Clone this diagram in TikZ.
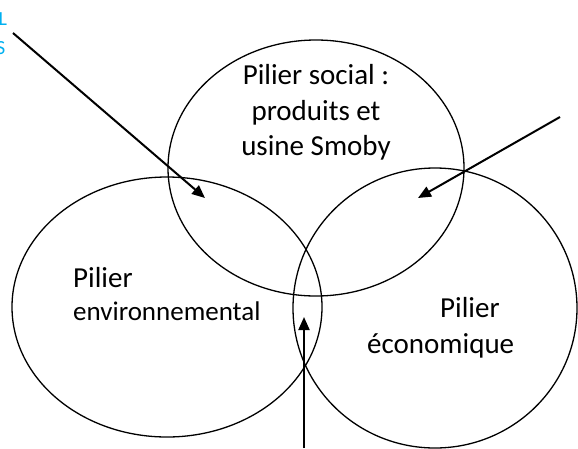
\documentclass[tikz,border=0pt]{standalone}
\usepackage{fontspec}
\setmainfont{Carlito}
\usetikzlibrary{arrows.meta}
\definecolor{wordblue}{RGB}{0,176,240}
\tikzset{
  pillar/.style={draw=black, line width=1.3pt},
  pointer/.style={draw=black, line width=2pt, -{Triangle[length=13pt,width=11pt]}},
  lbl/.style={inner sep=0pt, anchor=base, font=\fontsize{29}{35}\selectfont},
  lblw/.style={lbl, anchor=base west},
  cyanlbl/.style={inner sep=0pt, anchor=base west, text=wordblue, font=\fontsize{20}{24}\selectfont}
}
\begin{document}
\begin{tikzpicture}[x=1pt,y=-1pt]
\useasboundingbox (0,0) rectangle (578,448);
% circles
\draw[pillar] (316,168) ellipse [x radius=148, y radius=128];
\draw[pillar] (167,307) ellipse [x radius=155, y radius=130];
\draw[pillar] (435,308) ellipse [x radius=142, y radius=140];
% texts
\node[lbl] (s1) at (316,84) {Pilier social :};
\node[lbl] (s2) at (316,120) {produits et};
\node[lbl] (s3) at (316,155) {usine Smoby};
\node[lblw] (e1) at (73,287) {Pilier};
\node[lblw, font=\fontsize{27}{33}\selectfont] (e2) at (73,320) {environnemental};
\node[lblw] (c1) at (440,317) {Pilier};
\node[lblw] (c2) at (367,353) {économique};
\node[cyanlbl] (t1) at (-1.5,25) {L};
\node[cyanlbl] (t2) at (-4,54) {S};
% arrows
\coordinate (a1s) at (13,33);
\coordinate (a1e) at (205,198);
\coordinate (a2s) at (560,117);
\coordinate (a2e) at (418,198);
\coordinate (a3s) at (304,448);
\coordinate (a3e) at (304,317);
\draw[pointer] (a1s) -- (a1e);
\draw[pointer] (a2s) -- (a2e);
\draw[pointer] (a3s) -- (a3e);
\end{tikzpicture}
\end{document}
